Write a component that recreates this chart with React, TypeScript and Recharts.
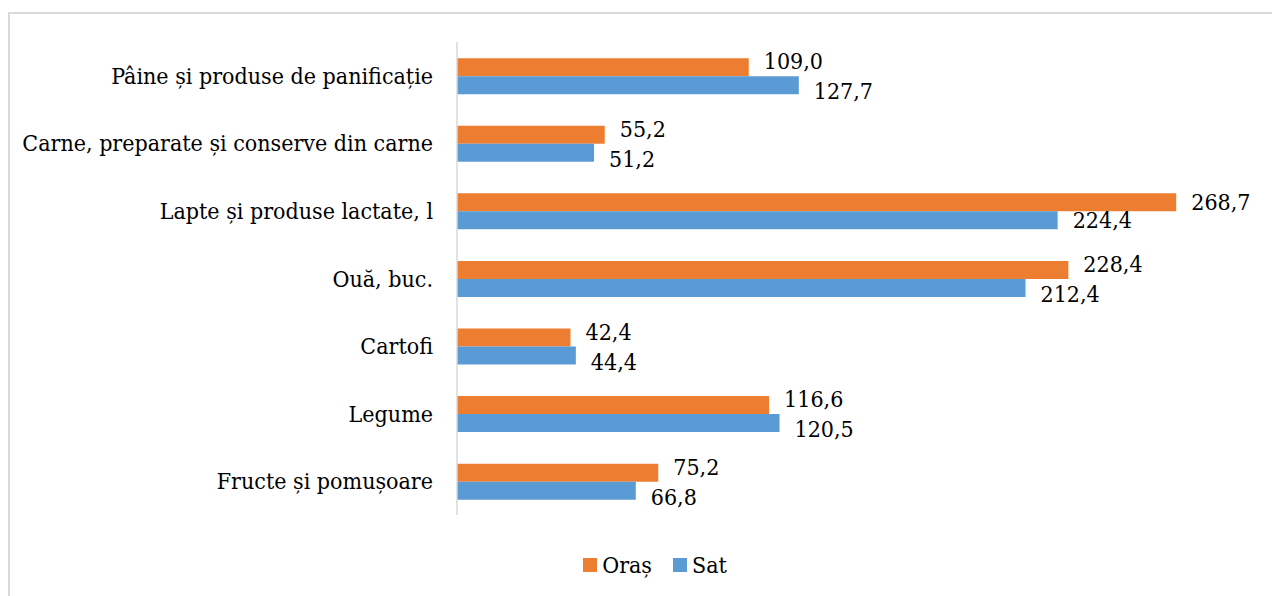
import React from 'react';
import { BarChart, Bar, XAxis, YAxis, LabelList } from 'recharts';

const categories = [
  'Pâine și produse de panificație',
  'Carne, preparate și conserve din carne',
  'Lapte și produse lactate, l',
  'Ouă, buc.',
  'Cartofi',
  'Legume',
  'Fructe și pomușoare',
];
const orasValues = [109.0, 55.2, 268.7, 228.4, 42.4, 116.6, 75.2];
const satValues = [127.7, 51.2, 224.4, 212.4, 44.4, 120.5, 66.8];
const seriesNames = ['Oraș', 'Sat'];

const data = categories.map((c, i) => ({ name: c, oras: orasValues[i], sat: satValues[i] }));

const ORANGE = '#ED7D31';
const BLUE = '#5B9BD5';
const FONT = "'DejaVu Serif Condensed', 'DejaVu Serif', serif";
const FS = 23;

const fmt = (v: number) => v.toFixed(1).replace('.', ',');

const makeLabel = (series: 'oras' | 'sat') => (props: any) => {
  const { x, y, width, height, value, index } = props;
  const mine = series === 'oras' ? orasValues[index] : satValues[index];
  const other = series === 'oras' ? satValues[index] : orasValues[index];
  const otherEnd = x + (width * other) / mine;
  const myEnd = x + width;
  const overlap = Math.abs(otherEnd - myEnd) < 62;
  const shift = overlap ? (series === 'oras' ? -6 : 6) : 0;
  return (
    <text
      x={myEnd + 15}
      y={y + height / 2 + shift}
      dy="0.35em"
      style={{ fontFamily: FONT, fontStretch: 'condensed' }}
      fontSize={FS}
      fill="#000"
    >
      {fmt(Number(value))}
    </text>
  );
};

const CategoryTick = (props: any) => {
  const { x, y, payload } = props;
  return (
    <text x={x} y={y} dy="0.35em" textAnchor="end" style={{ fontFamily: FONT, fontStretch: 'condensed' }} fontSize={FS} fill="#000">
      {payload.value}
    </text>
  );
};

const LegendContent = () => (
  <div style={{ display: 'flex', justifyContent: 'center', alignItems: 'center', fontFamily: FONT, fontStretch: 'condensed', fontSize: FS, color: '#000', paddingLeft: 22 }}>
    {seriesNames.map((n, i) => (
      <div key={n} style={{ display: 'flex', alignItems: 'center', marginRight: i === 0 ? 21 : 0 }}>
        <div style={{ width: 14, height: 14, background: i === 0 ? ORANGE : BLUE, marginRight: 5 }} />
        <span>{n}</span>
      </div>
    ))}
  </div>
);

export default function App() {
  return (
    <div style={{ position: 'relative', width: 1272, height: 588, overflow: 'hidden', background: '#fff', fontFamily: FONT }}>
      <div
        style={{
          position: 'absolute',
          left: 0,
          top: 4,
          width: 1400,
          height: 700,
          borderLeft: '2px solid #D9D9D9',
          borderTop: '2px solid #D9D9D9',
          boxSizing: 'border-box',
        }}
      />
      <div style={{ position: 'absolute', left: 0, top: 0 }}>
        <BarChart
          width={1272}
          height={588}
          data={data}
          layout="vertical"
          margin={{ top: 34, right: 20, bottom: 81, left: 0 }}
          barCategoryGap="24%"
          barGap={0}
        >
          <XAxis type="number" domain={[0, 300]} hide />
          <YAxis
            type="category"
            dataKey="name"
            width={449}
            tickSize={0}
            tickMargin={24}
            axisLine={{ stroke: '#D9D9D9', strokeWidth: 1.5 }}
            tickLine={false}
            tick={<CategoryTick />}
            interval={0}
          />
          <Bar dataKey="oras" name="Oraș" fill={ORANGE} isAnimationActive={false}>
            <LabelList dataKey="oras" content={makeLabel('oras')} />
          </Bar>
          <Bar dataKey="sat" name="Sat" fill={BLUE} isAnimationActive={false}>
            <LabelList dataKey="sat" content={makeLabel('sat')} />
          </Bar>
        </BarChart>
      </div>
      <div style={{ position: 'absolute', left: 0, top: 544, width: 1272 }}>
        <LegendContent />
      </div>
    </div>
  );
}
